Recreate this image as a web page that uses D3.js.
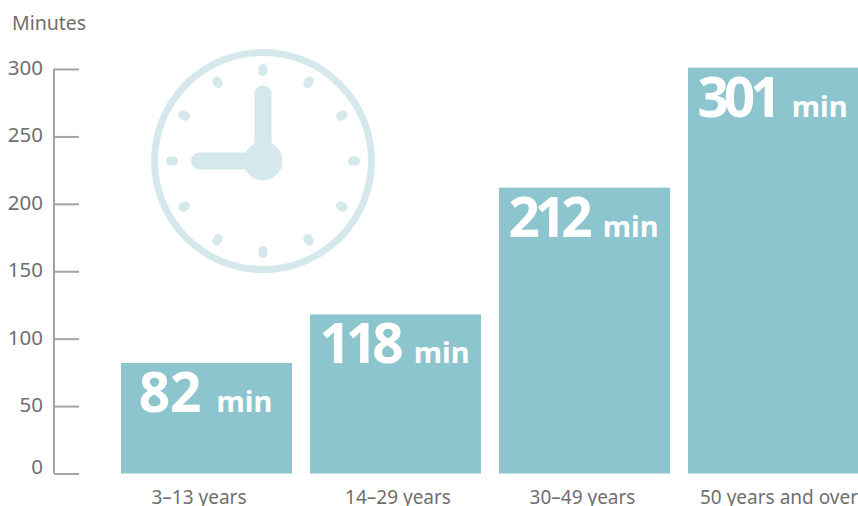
<!DOCTYPE html>
<html lang="en">
<head>
    <meta charset="UTF-8">
    <script src="https://d3js.org/d3.v7.min.js"></script>
    <style>
        html, body { margin: 0; padding: 0; background: #fff; overflow: hidden; }
        svg { display: block; }
        text { font-family: "Noto Sans", "Open Sans", sans-serif; }
        .tick-label { font-size: 20.5px; fill: #6f6f6e; }
        .axis-title { font-size: 19.5px; fill: #6f6f6e; }
        .cat-label { font-size: 19px; fill: #6f6f6e; }
        .value { font-size: 55px; font-weight: 700; fill: #fff; }
        .unit { font-size: 29px; font-weight: 700; fill: #fff; }
    </style>
</head>
<body>
    <svg id="chart"></svg>
    <script>
        const categories = ["3–13 years", "14–29 years", "30–49 years", "50 years and over"];
        const minutes = [82, 118, 212, 301];
        const yTicks = [0, 50, 100, 150, 200, 250, 300];
        const clockHours = [0, 1, 2, 3, 4, 5, 6, 7, 8, 9, 10, 11];

        const width = 858, height = 506;
        const svg = d3.select("#chart").attr("width", width).attr("height", height);

        const x = d3.scaleBand()
            .domain(categories)
            .range([121, 859])
            .paddingInner(18 / 189)
            .paddingOuter(0);

        const y = d3.scaleLinear().domain([0, 300]).range([473.5, 69]);

        // clock behind the chart
        const clock = svg.append("g").attr("transform", "translate(263,161)");
        const clockColor = "#d5e8ec";
        clock.append("circle")
            .attr("r", 108.5)
            .attr("fill", "none")
            .attr("stroke", clockColor)
            .attr("stroke-width", 7);
        clock.selectAll(".hour")
            .data(clockHours)
            .enter()
            .append("rect")
            .attr("class", "hour")
            .attr("x", -4.5)
            .attr("y", -97)
            .attr("width", 9)
            .attr("height", 12)
            .attr("rx", 4.5)
            .attr("fill", clockColor)
            .attr("transform", d => `rotate(${d * 30})`);
        clock.append("circle").attr("r", 19.5).attr("fill", clockColor);
        clock.append("rect")
            .attr("x", -8.5).attr("y", -75.5)
            .attr("width", 17).attr("height", 75.5)
            .attr("rx", 8.5).attr("fill", clockColor);
        clock.append("rect")
            .attr("x", -72).attr("y", -8.5)
            .attr("width", 72).attr("height", 17)
            .attr("rx", 8.5).attr("fill", clockColor);

        // y axis
        const axis = svg.append("g")
            .attr("transform", "translate(54,0)")
            .call(d3.axisRight(y).tickValues(yTicks).tickSize(25).tickFormat(""));
        axis.selectAll("path, line").attr("stroke", "#a3a3a3").attr("stroke-width", 2);
        axis.select(".domain").attr("d", `M0,${y(300)}V${y(0)}`);

        // the 0 sits on the baseline in the original, the others are centred on their tick
        svg.selectAll(".tick-label")
            .data(yTicks)
            .enter()
            .append("text")
            .attr("class", "tick-label")
            .attr("x", 43)
            .attr("y", d => y(d) + (d === 0 ? 0.5 : 6))
            .attr("text-anchor", "end")
            .text(d => d);

        svg.append("text")
            .attr("class", "axis-title")
            .attr("x", 12)
            .attr("y", 30)
            .text("Minutes");

        // bars
        svg.selectAll(".bar")
            .data(minutes)
            .enter()
            .append("rect")
            .attr("class", "bar")
            .attr("x", (d, i) => x(categories[i]))
            .attr("y", d => y(d))
            .attr("width", x.bandwidth())
            .attr("height", d => y(0) - y(d))
            .attr("fill", "#8cc5cd");

        const valueText = svg.selectAll(".bar-label")
            .data(minutes)
            .enter()
            .append("text")
            .attr("class", "bar-label")
            .attr("x", (d, i) => x(categories[i]) + x.bandwidth() / 2 - 1)
            .attr("y", d => y(d) + 49)
            .attr("text-anchor", "middle");
        valueText.append("tspan")
            .attr("class", "value")
            .style("letter-spacing", d => d >= 100 ? "-5px" : "0")
            .text(d => d);
        valueText.append("tspan").attr("class", "unit").attr("dx", 15).text("min");

        // category labels are not quite centred under the bars
        const labelShift = [-7.5, 2.5, -2, 5.5];
        svg.selectAll(".cat-label")
            .data(categories)
            .enter()
            .append("text")
            .attr("class", "cat-label")
            .attr("x", (d, i) => x(d) + x.bandwidth() / 2 + labelShift[i])
            .attr("y", 504)
            .attr("text-anchor", "middle")
            .text(d => d);
    </script>
</body>
</html>
